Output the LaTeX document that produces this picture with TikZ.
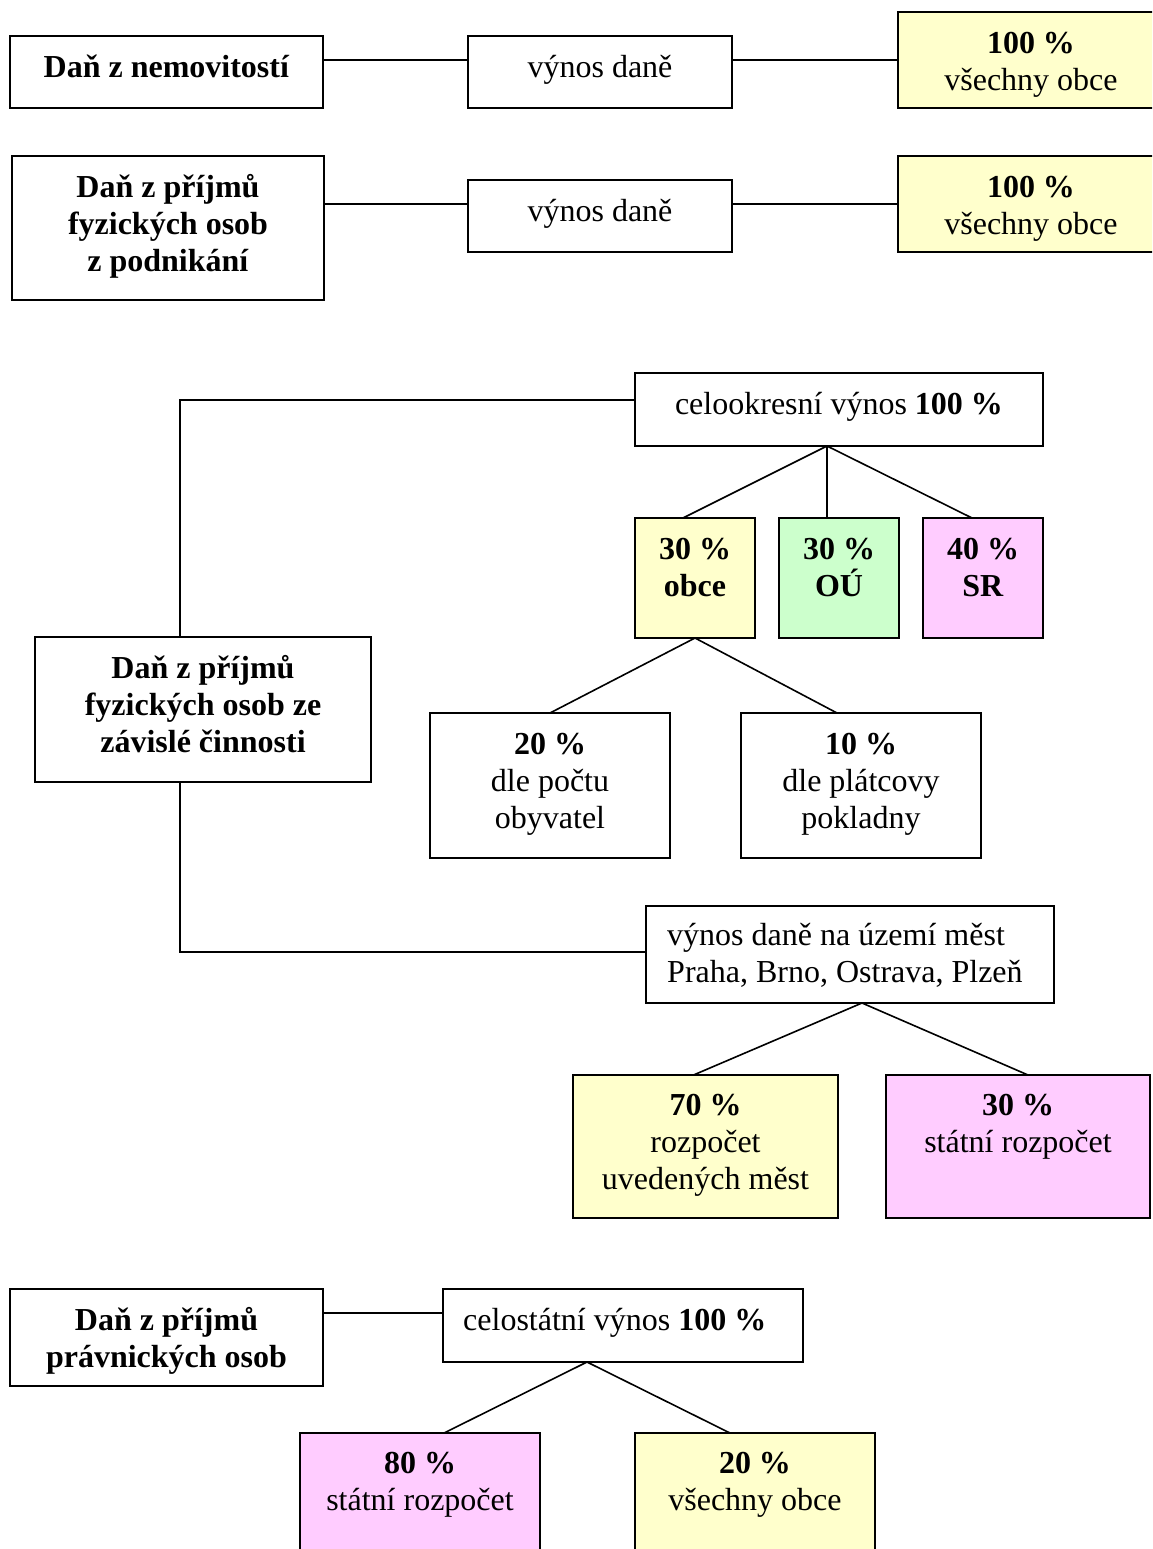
\documentclass[tikz,border=0pt]{standalone}
\usepackage{fontspec}
\setmainfont{Liberation Serif}
\usetikzlibrary{calc}
\definecolor{yel}{HTML}{FFFFCC}
\definecolor{grn}{HTML}{CCFFCC}
\definecolor{pnk}{HTML}{FFCCFF}
\newcommand\fs{\rule{0pt}{32pt}}
\newcommand\mkbox[6]{\node[box,#6,minimum width={(#4-#2)*1pt},minimum height={(#5-#3)*1pt},anchor=north west] (#1) at (#2,#3) {};}
\begin{document}
\begin{tikzpicture}[x=1pt,y=-1pt,
  box/.style={draw, line width=1.6pt, inner sep=0pt, outer sep=0pt},
  txt/.style={anchor=north, inner sep=0pt, align=center, font=\fontsize{32}{37}\selectfont},
  txl/.style={anchor=north west, inner sep=0pt, align=left, font=\fontsize{32}{37}\selectfont},
  con/.style={line width=1.6pt}]
\clip (0,0) rectangle (1152,1549);
\fill[white] (0,0) rectangle (1152,1549);

% --- row A
\mkbox{A1}{10}{36}{323}{108}{}
\mkbox{A2}{468}{36}{732}{108}{}
\mkbox{A3}{898}{12}{1164}{108}{fill=yel}
\node[txt] (A1t) at ([yshift=-9pt]A1.north) {\fs\textbf{Daň z nemovitostí}};
\node[txt] (A2t) at ([yshift=-9pt]A2.north) {\fs výnos daně};
\node[txt] (A3t) at ([yshift=-9pt]A3.north) {\fs\textbf{100 \%}\\všechny obce};
\draw[con] ([yshift=-24pt]A1.north east) -- ([yshift=-24pt]A2.north west);
\draw[con] ([yshift=-24pt]A2.north east) -- ([yshift=-48pt]A3.north west);

% --- row B
\mkbox{B1}{12}{156}{324}{300}{}
\mkbox{B2}{468}{180}{732}{252}{}
\mkbox{B3}{898}{156}{1164}{252}{fill=yel}
\node[txt] (B1t) at ([yshift=-9pt]B1.north) {\fs\textbf{Daň z příjmů}\\\textbf{fyzických osob}\\\textbf{z podnikání}};
\node[txt] (B2t) at ([yshift=-9pt]B2.north) {\fs výnos daně};
\node[txt] (B3t) at ([yshift=-9pt]B3.north) {\fs\textbf{100 \%}\\všechny obce};
\draw[con] ([yshift=-48pt]B1.north east) -- ([yshift=-24pt]B2.north west);
\draw[con] ([yshift=-24pt]B2.north east) -- ([yshift=-48pt]B3.north west);

% --- section C
\mkbox{CT}{635}{373}{1043}{446}{}
\node[txt] (CTt) at ([yshift=-9pt]CT.north) {\fs celookresní výnos \textbf{100 \%}};
\mkbox{Cob}{635}{518}{755}{638}{fill=yel}
\mkbox{Cou}{779}{518}{899}{638}{fill=grn}
\mkbox{Csr}{923}{518}{1043}{638}{fill=pnk}
\node[txt] (Cobt) at ([yshift=-9pt]Cob.north) {\fs\textbf{30 \%}\\\textbf{obce}};
\node[txt] (Cout) at ([yshift=-9pt]Cou.north) {\fs\textbf{30 \%}\\\textbf{OÚ}};
\node[txt] (Csrt) at ([yshift=-9pt]Csr.north) {\fs\textbf{40 \%}\\\textbf{SR}};
\draw[con] ([xshift=-12pt]CT.south) -- ([xshift=-12pt]Cob.north);
\draw[con] ([xshift=-12pt]CT.south) -- ([xshift=-12pt]Cou.north);
\draw[con] ([xshift=-12pt]CT.south) -- ([xshift=-11pt]Csr.north);

\mkbox{CM}{35}{637}{371}{782}{}
\node[txt] (CMt) at ([yshift=-9pt]CM.north) {\fs\textbf{Daň z příjmů}\\\textbf{fyzických osob ze}\\\textbf{závislé činnosti}};

\mkbox{P20}{430}{713}{670}{858}{}
\mkbox{P10}{741}{713}{981}{858}{}
\node[txt] (P20t) at ([yshift=-9pt]P20.north) {\fs\textbf{20 \%}\\dle počtu\\obyvatel};
\node[txt] (P10t) at ([yshift=-9pt]P10.north) {\fs\textbf{10 \%}\\dle plátcovy\\pokladny};
\draw[con] (Cob.south) -- (P20.north);
\draw[con] (Cob.south) -- ([xshift=-24pt]P10.north);

\mkbox{CV}{646}{906}{1054}{1003}{}
\node[txl] (CVt) at ([xshift=21pt,yshift=-7pt]CV.north west) {\fs výnos daně na území měst\\Praha, Brno, Ostrava, Plzeň};

\draw[con] ([yshift=-27pt]CT.north west) -| ([xshift=145pt]CM.north west);
\draw[con] ([xshift=145pt]CM.south west) |- ([yshift=-46pt]CV.north west);

\mkbox{M70}{573}{1075}{838}{1218}{fill=yel}
\mkbox{M30}{886}{1075}{1150}{1218}{fill=pnk}
\node[txt] (M70t) at ([yshift=-8pt]M70.north) {\fs\textbf{70 \%}\\rozpočet\\uvedených měst};
\node[txt] (M30t) at ([yshift=-8pt]M30.north) {\fs\textbf{30 \%}\\státní rozpočet};
\draw[con] ([xshift=12pt]CV.south) -- ([xshift=-12pt]M70.north);
\draw[con] ([xshift=12pt]CV.south) -- ([xshift=10pt]M30.north);

% --- section D
\mkbox{D1}{10}{1289}{323}{1386}{}
\node[txt] (D1t) at ([yshift=-9pt]D1.north) {\fs\textbf{Daň z příjmů}\\\textbf{právnických osob}};
\mkbox{DC}{443}{1289}{803}{1362}{}
\node[txl] (DCt) at ([xshift=20pt,yshift=-9pt]DC.north west) {\fs celostátní výnos \textbf{100 \%}};
\draw[con] ([yshift=-24pt]D1.north east) -- ([yshift=-24pt]DC.north west);

\mkbox{D80}{300}{1433}{540}{1570}{fill=pnk}
\mkbox{D20}{635}{1433}{875}{1570}{fill=yel}
\node[txt] (D80t) at ([yshift=-8pt]D80.north) {\fs\textbf{80 \%}\\státní rozpočet};
\node[txt] (D20t) at ([yshift=-8pt]D20.north) {\fs\textbf{20 \%}\\všechny obce};
\draw[con] ([xshift=-36pt]DC.south) -- ([xshift=24pt]D80.north);
\draw[con] ([xshift=-36pt]DC.south) -- ([xshift=-25pt]D20.north);
\end{tikzpicture}
\end{document}
